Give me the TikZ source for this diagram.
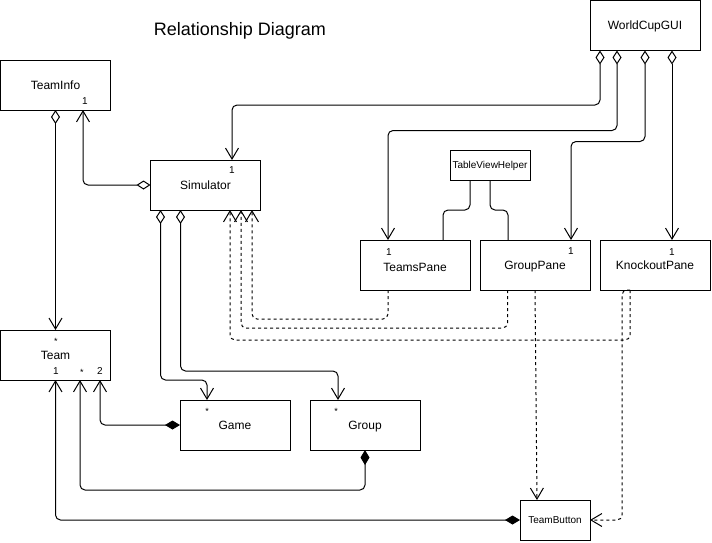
\documentclass[tikz,border=0pt]{standalone}
\usepackage{fontspec}
\setmainfont{Liberation Sans}
\usetikzlibrary{arrows.meta}
\begin{document}
\begin{tikzpicture}[x=1pt,y=-1pt,
  box/.style={draw, line width=1pt, fill=white, minimum width=110pt, minimum height=50pt,
    inner sep=0pt, outer sep=0pt, anchor=north west, font=\fontsize{12}{14}\selectfont,
    text height=8.6pt, text depth=0pt},
  smallbox/.style={box, font=\fontsize{10}{12}\selectfont, text height=7.2pt},
  num/.style={font=\fontsize{10}{12}\selectfont, inner sep=0pt, anchor=base},
  ast/.style={font=\fontsize{9}{11}\selectfont, inner sep=0pt, anchor=base},
  line/.style={line width=1pt, rounded corners=5pt},
  agg/.style={{Diamond[open,length=14pt,width=9pt]}-{Straight Barb[length=11pt,width=13pt]}},
  comp/.style={{Diamond[length=15pt,width=9pt]}-{Straight Barb[length=11pt,width=13pt]}},
  dep/.style={dash pattern=on 3pt off 3pt, -{Straight Barb[length=11pt,width=13pt]}}
]
\useasboundingbox[fill=white] (0,0) rectangle (712,542);

\node[font=\fontsize{18}{21}\selectfont] (title) at (240,31) {Relationship Diagram};

\node[box] (teaminfo) at (0.5,60) {TeamInfo};
\node[box] (sim) at (150.5,160) {Simulator};
\node[box] (gui) at (590,0.5) {WorldCupGUI};
\node[smallbox, minimum width=80pt, minimum height=30pt] (tvh) at (450,150) {TableViewHelper};
\node[box, text height=13.6pt] (teamspane) at (360,240) {TeamsPane};
\node[box] (grouppane) at (480,240) {GroupPane};
\node[box] (knockout) at (600,240) {KnockoutPane};
\node[box] (team) at (0.5,330) {Team};
\node[box] (game) at (180,400) {Game};
\node[box] (group) at (310,400) {Group};
\node[smallbox, minimum width=70pt, minimum height=40pt] (teambutton) at (520,500) {TeamButton};

% multiplicities
\node[num] (m1) at (85,104.5) {1};
\node[num] (m2) at (232,173.5) {1};
\node[num] (m3) at (389,255.5) {1};
\node[num] (m4) at (571,254) {1};
\node[num] (m5) at (672,255.5) {1};
\node[num] (m6) at (56,374.5) {1};
\node[num] (m7) at (100,374.5) {2};
\node[ast] (a1) at (56,344.5) {*};
\node[ast] (a2) at (82,375.5) {*};
\node[ast] (a3) at (207,414.5) {*};
\node[ast] (a4) at (336,414.5) {*};

% aggregations
\draw[line,agg] (sim.west) -| ([xshift=27.5pt]teaminfo.south);
\draw[line,agg] (teaminfo.south) -- (team.north);
\draw[line,agg] ([xshift=-45pt]gui.south) -- ++(0,54.5) -| ([xshift=26.5pt]sim.north);
\draw[line,agg] ([xshift=-28pt]gui.south) -- ++(0,80) -| ([xshift=-27pt]teamspane.north);
\draw[line,agg] (gui.south) -- ++(0,91) -| ([xshift=36pt]grouppane.north);
\draw[line,agg] ([xshift=27pt]gui.south) -- ([xshift=27pt]gui.south |- knockout.north);
\draw[line,agg] ([xshift=-45pt]sim.south) -- ++(0,170) -| ([xshift=-28pt]game.north);
\draw[line,agg] ([xshift=-25pt]sim.south) -- ++(0,161) -| ([xshift=-27pt]group.north);

% TableViewHelper
\draw[line] ([xshift=-20pt]tvh.south) -- ++(0,30) -| ([xshift=28pt]teamspane.north);
\draw[line] (tvh.south) -- ++(0,30) -| ([xshift=-27pt]grouppane.north);

% dependencies
\draw[line,dep] ([xshift=-27pt]teamspane.south) -- ++(0,29) -| ([xshift=46.5pt]sim.south);
\draw[line,dep] ([xshift=-27.5pt]grouppane.south) -- ++(0,38) -| ([xshift=35.5pt]sim.south);
\draw[line,dep] ([xshift=-25pt]knockout.south) -- ++(0,50) -| ([xshift=24.5pt]sim.south);
\draw[line,dep] (grouppane.south) -- ([xshift=-18pt]teambutton.north);
\draw[line,dep] ([xshift=-25pt]knockout.south) -| ([xshift=-33pt]knockout.south |- teambutton.east) -- (teambutton.east);

% compositions
\draw[line,comp] (game.west) -| ([xshift=44.5pt]team.south);
\draw[line,comp] (group.south) -- ++(0,40) -| ([xshift=24.5pt]team.south);
\draw[line,comp] (teambutton.west) -| (team.south);
\end{tikzpicture}
\end{document}
